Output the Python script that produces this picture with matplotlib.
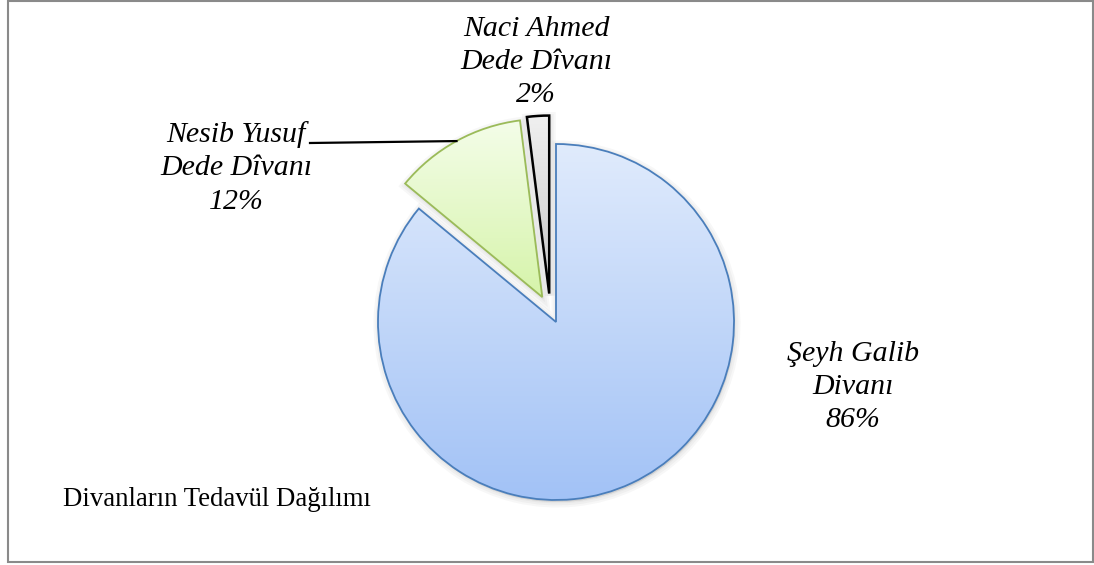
import numpy as np
import matplotlib.pyplot as plt
from matplotlib.colors import LinearSegmentedColormap
from matplotlib.patches import Rectangle, Wedge

# Veriler
etiketler = ["Şeyh Galib\nDivanı", "Nesib Yusuf\nDede Dîvanı", "Naci Ahmed\nDede Dîvanı"]
oranlar = [86, 12, 2]
baslik = "Divanların Tedavül Dağılımı"

# Stil
patlama = [0, 0.16, 0.16]
kaydir = [0, 0, -5]  # Excel'deki gibi küçük yatay kayma
renk_ust = ["#e0ebfc", "#f4fde9", "#f0f0f0"]
renk_alt = ["#a2c2f6", "#d6f4aa", "#c6c6c6"]
kenar = ["#4a7ebb", "#9bbb59", "#000000"]
etiket_yer = [(853, 178), (236, 397), (536, 503)]

fig = plt.figure(figsize=(10.94, 5.65), dpi=100)
ax = fig.add_axes([0, 0, 1, 1])

merkez = (556, 243)
yaricap = 178
dilimler, _ = ax.pie(oranlar, explode=[p * yaricap for p in patlama], startangle=90,
                     counterclock=False, center=merkez, radius=yaricap)

for i, w in enumerate(dilimler):
    w.set_center((w.center[0] + kaydir[i], w.center[1]))
    w.set_facecolor("none")
    w.set_edgecolor(kenar[i])
    w.set_linewidth(1.3 if i < 2 else 1.8)
    w.set_zorder(5)
    # gölge
    for k, lw in enumerate([8, 5, 2]):
        g = Wedge((w.center[0] + 1, w.center[1] - 2), w.r, w.theta1, w.theta2,
                  facecolor="#000000", edgecolor="#000000", alpha=0.03,
                  linewidth=lw, zorder=2)
        ax.add_patch(g)
    # degrade dolgu
    ext = w.get_path().get_extents()
    cmap = LinearSegmentedColormap.from_list("g%d" % i, [renk_alt[i], renk_ust[i]])
    grad = np.linspace(0, 1, 256).reshape(-1, 1)
    im = ax.imshow(grad, cmap=cmap, origin="lower", aspect="auto",
                   extent=[ext.x0, ext.x1, ext.y0, ext.y1], interpolation="bilinear",
                   zorder=4)
    beyaz = Wedge(w.center, w.r, w.theta1, w.theta2, facecolor="white", zorder=3)
    ax.add_patch(beyaz)
    im.set_clip_path(w)

# etiketler
for i, (x, y) in enumerate(etiket_yer):
    ax.text(x, y, "%s\n%d%%" % (etiketler[i], oranlar[i]), ha="center", va="center",
            family="Liberation Serif", style="italic", fontsize=21.5, linespacing=1.36,
            zorder=6)

# Nesib Yusuf kılavuz çizgisi
w = dilimler[1]
orta = np.deg2rad((w.theta1 + w.theta2) / 2)
px = w.center[0] + w.r * np.cos(orta)
py = w.center[1] + w.r * np.sin(orta)
ax.plot([px, etiket_yer[1][0] + 74], [py, etiket_yer[1][1] + 25], color="black", lw=1.6, zorder=6)

ax.text(63, 65, baslik, ha="left", va="center", family="Liberation Serif", fontsize=19.3)

ax.add_patch(Rectangle((8, 3), 1085, 561, fill=False, edgecolor="#8a8a8a", lw=1.5,
                       clip_on=False, zorder=1))

ax.set_xlim(0, 1094)
ax.set_ylim(0, 565)
ax.set_aspect("auto")
ax.axis("off")

fig.savefig("out.png", dpi=100)
